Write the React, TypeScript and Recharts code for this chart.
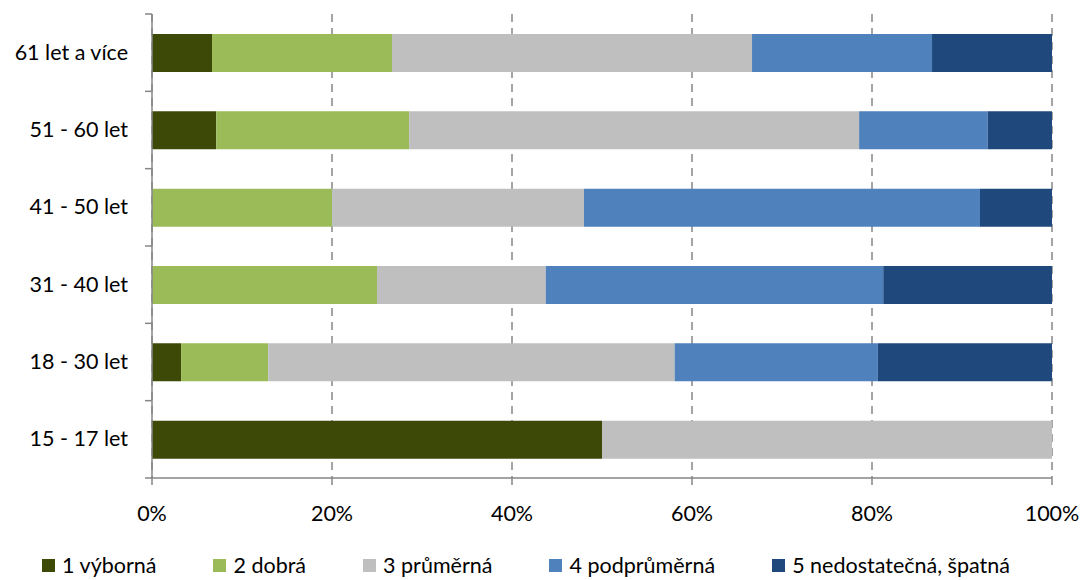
import React from 'react';
import { BarChart, Bar, XAxis, YAxis, CartesianGrid, Legend } from 'recharts';

// age groups, top to bottom
const groups = ['61 let a více', '51 - 60 let', '41 - 50 let', '31 - 40 let', '18 - 30 let', '15 - 17 let'];

// share of answers per group (%)
const vyborna = [6.67, 7.14, 0, 0, 3.23, 50];
const dobra = [20, 21.43, 20, 25, 9.68, 0];
const prumerna = [40, 50, 28, 18.75, 45.16, 50];
const podprumerna = [20, 14.29, 44, 37.5, 22.58, 0];
const nedostatecna = [13.33, 7.14, 8, 18.75, 19.35, 0];

const seriesNames = ['1 výborná', '2 dobrá', '3 průměrná', '4 podprůměrná', '5 nedostatečná, špatná'];
const seriesColors = ['#3d4a07', '#9bbb59', '#bfbfbf', '#4f81bd', '#1f497d'];
const xTicks = [0, 20, 40, 60, 80, 100];

const seriesValues = [vyborna, dobra, prumerna, podprumerna, nedostatecna];
const data = groups.map((g, i) => {
  const row: Record<string, any> = { group: g };
  seriesValues.forEach((vals, s) => {
    row['s' + s] = vals[i];
  });
  return row;
});

const W = 1082;
const H = 580;
const MARGIN = { top: 14, right: 30, left: 0, bottom: 0 };
const Y_WIDTH = 152;
const X_HEIGHT = 72;
const LEGEND_H = 30;
const PLOT_H = H - MARGIN.top - MARGIN.bottom - X_HEIGHT - LEGEND_H;
const BAND = PLOT_H / groups.length;
const AXIS = '#868686';
const FONT = 'Lato, "Open Sans", sans-serif';
const FS = 21.5;

const YTick = (props: any) => {
  const { y, payload, index } = props;
  const ax = MARGIN.left + Y_WIDTH;
  return (
    <g>
      <text x={ax - 24} y={y} dy={7} textAnchor="end" fontSize={FS} fill="#000" fontFamily={FONT}>
        {payload.value}
      </text>
      <line x1={ax - 7} x2={ax} y1={y - BAND / 2} y2={y - BAND / 2} stroke={AXIS} strokeWidth={1.5} />
      {index === groups.length - 1 && (
        <line x1={ax - 7} x2={ax} y1={y + BAND / 2} y2={y + BAND / 2} stroke={AXIS} strokeWidth={1.5} />
      )}
    </g>
  );
};

const renderLegend = () => (
  <div
    style={{
      display: 'flex',
      justifyContent: 'center',
      alignItems: 'center',
      gap: 57,
      height: LEGEND_H,
      fontFamily: FONT,
      fontSize: FS,
      color: '#000',
    }}
  >
    {seriesNames.map((name, i) => (
      <div key={name} style={{ display: 'flex', alignItems: 'center' }}>
        <span style={{ width: 13, height: 13, background: seriesColors[i], marginRight: 7, display: 'inline-block' }} />
        <span>{name}</span>
      </div>
    ))}
  </div>
);

export default function App() {
  return (
    <div style={{ position: 'absolute', left: 0, top: 0, width: W, height: H, background: '#fff' }}>
      <BarChart width={W} height={H} data={data} layout="vertical" margin={MARGIN}>
        <CartesianGrid vertical horizontal={false} stroke={AXIS} strokeDasharray="8 6" strokeWidth={1.5} />
        <XAxis
          type="number"
          domain={[0, 100]}
          ticks={xTicks}
          allowDataOverflow
          tickFormatter={(v: number) => `${v}%`}
          height={X_HEIGHT}
          axisLine={{ stroke: AXIS, strokeWidth: 1.5 }}
          tickLine={{ stroke: AXIS, strokeWidth: 1.5 }}
          tickSize={7}
          tickMargin={21}
          tick={{ fontSize: FS, fill: '#000', fontFamily: FONT }}
        />
        <YAxis
          type="category"
          dataKey="group"
          width={Y_WIDTH}
          axisLine={{ stroke: AXIS, strokeWidth: 1.5 }}
          tickLine={false}
          tick={<YTick />}
          interval={0}
        />
        {seriesNames.map((name, i) => (
          <Bar
            key={name}
            dataKey={'s' + i}
            name={name}
            stackId="a"
            fill={seriesColors[i]}
            barSize={38}
            isAnimationActive={false}
          />
        ))}
        <Legend verticalAlign="bottom" height={LEGEND_H} content={renderLegend} wrapperStyle={{ height: LEGEND_H }} />
      </BarChart>
    </div>
  );
}
